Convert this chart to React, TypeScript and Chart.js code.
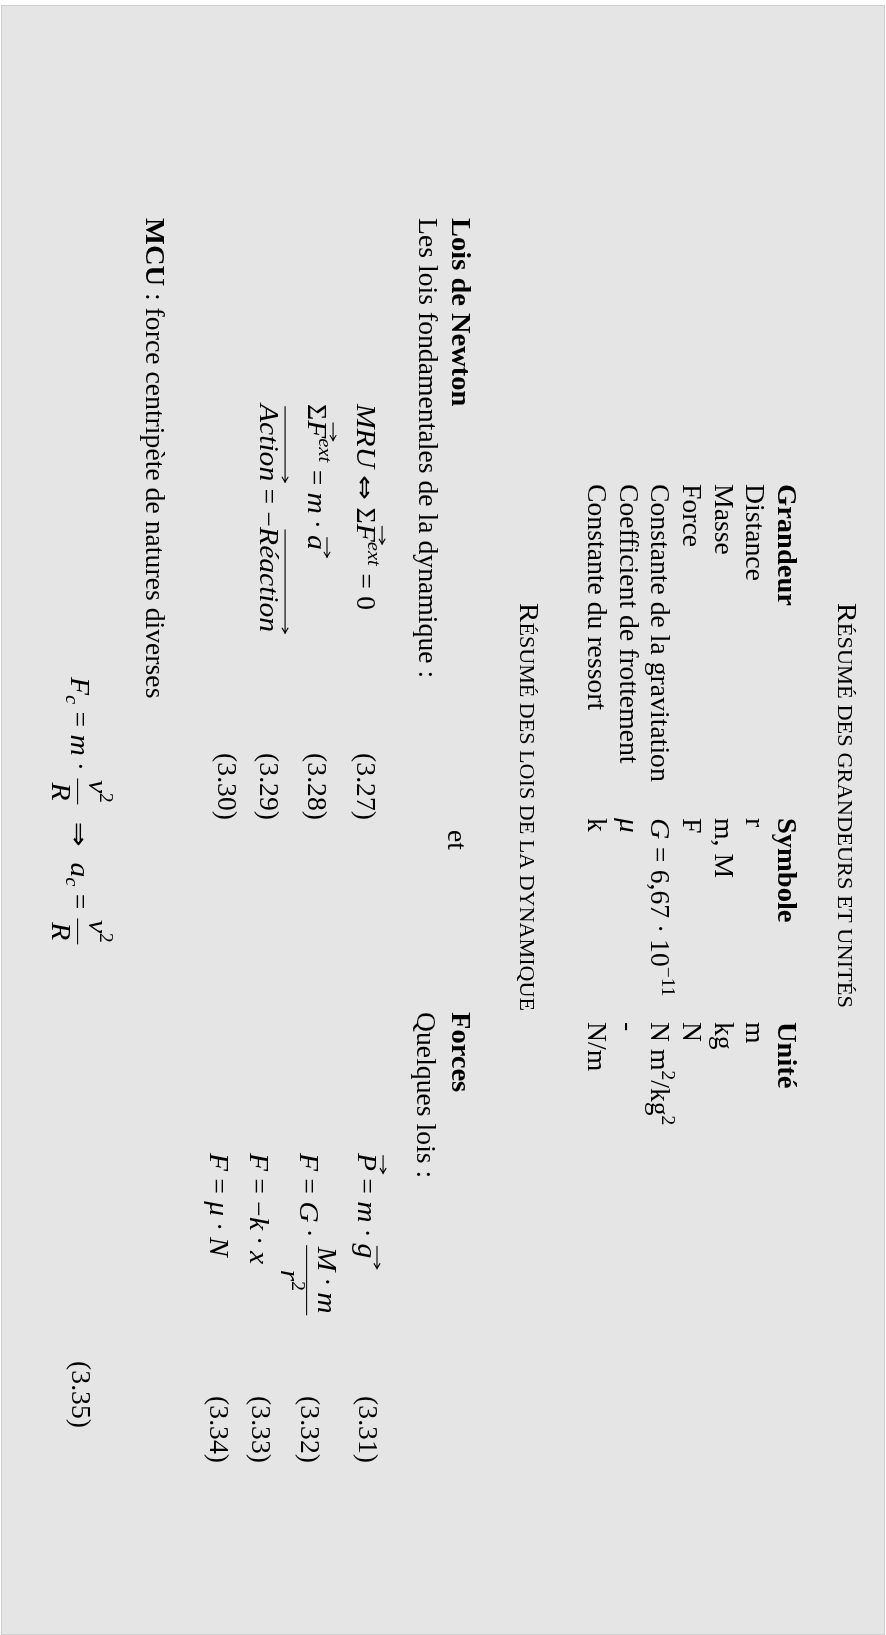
import { useEffect, useRef } from "react";
import { Chart, registerables } from "chart.js";

Chart.register(...registerables);

// ---------------- data (texts of the page) ----------------
const PAGE_W = 886;
const PAGE_H = 1635;

const titleGrandeurs = "Résumé des grandeurs et unités";
const titleLois = "Résumé des lois de la dynamique";
const tableHeaders = ["Grandeur", "Symbole", "Unité"];
const grandeurs = [
  "Distance",
  "Masse",
  "Force",
  "Constante de la gravitation",
  "Coefficient de frottement",
  "Constante du ressort",
];
const symbolesSimple = ["r", "m, M", "F", "", "μ", "k"];
const unitesSimple = ["m", "kg", "N", "", "-", "N/m"];
const gravitationValue = ["6,67", "10", "−11"];
const newtonHeading = ["Lois de Newton", "Les lois fondamentales de la dynamique :"];
const joinWord = "et";
const forcesHeading = ["Forces", "Quelques lois :"];
const mcuHeading = ["MCU", " : force centripète de natures diverses"];
const newtonEqNumbers = ["(3.27)", "(3.28)", "(3.29)", "(3.30)"];
const forceEqNumbers = ["(3.31)", "(3.32)", "(3.33)", "(3.34)"];
const mcuEqNumber = "(3.35)";

// ---------------- typesetting helpers ----------------
type St = "rm" | "it" | "bf" | "sy";
type Run =
  | { k: "t"; t: string; st: St; sz: number; rs: number }
  | { k: "sp"; w: number }
  | { k: "vec"; r: Run[]; h: number; ext: number }
  | { k: "frac"; n: Run[]; d: Run[] };

const FAMILY = '"Liberation Serif", "DejaVu Serif", serif';
const SYM_FAMILY = '"DejaVu Sans", sans-serif';
const FS = 26.4;
const STRETCH: Record<St, number> = { rm: 1.05, it: 1.12, bf: 1.08, sy: 1.25 };
const INK = "#000000";

const rm = (t: string): Run => ({ k: "t", t, st: "rm", sz: 1, rs: 0 });
const it = (t: string): Run => ({ k: "t", t, st: "it", sz: 1, rs: 0 });
const bf = (t: string): Run => ({ k: "t", t, st: "bf", sz: 1, rs: 0 });
const sy = (t: string): Run => ({ k: "t", t, st: "sy", sz: 0.9, rs: 0 });
const sp = (w: number): Run => ({ k: "sp", w });
const sup = (r: Run): Run => (r.k === "t" ? { ...r, sz: 0.7, rs: 0.42 } : r);
const sub = (r: Run): Run => (r.k === "t" ? { ...r, sz: 0.7, rs: -0.18 } : r);
const vec = (h: number, ext: number, ...r: Run[]): Run => ({ k: "vec", r, h, ext });
const frac = (n: Run[], d: Run[]): Run => ({ k: "frac", n, d });
const REL = 0.2778;
const BIN = 0.2222;
const eq = (): Run[] => [sp(REL), rm("="), sp(REL)];
const dot = (): Run[] => [sp(BIN), rm("·"), sp(BIN)];

function smallCaps(text: string): Run[] {
  const out: Run[] = [];
  for (const ch of text) {
    const lower = ch !== ch.toUpperCase();
    const sz = lower ? 0.76 : 1;
    const c = ch.toUpperCase();
    const last = out[out.length - 1];
    if (last && last.k === "t" && (last.sz === sz || ch === " ")) last.t += c;
    else out.push({ k: "t", t: c, st: "rm", sz, rs: 0 });
  }
  return out;
}

function fontOf(st: St, px: number) {
  if (st === "sy") return `${px.toFixed(2)}px ${SYM_FAMILY}`;
  const pre = st === "it" ? "italic " : st === "bf" ? "bold " : "";
  return `${pre}${px.toFixed(2)}px ${FAMILY}`;
}

function width(ctx: CanvasRenderingContext2D, runs: Run[], f: number): number {
  let w = 0;
  for (const r of runs) {
    if (r.k === "t") {
      ctx.font = fontOf(r.st, f * r.sz);
      w += ctx.measureText(r.t).width * STRETCH[r.st];
    } else if (r.k === "sp") w += r.w * f;
    else if (r.k === "vec") w += width(ctx, r.r, f);
    else w += Math.max(width(ctx, r.n, f), width(ctx, r.d, f)) + 0.24 * f;
  }
  return w;
}

function arrow(ctx: CanvasRenderingContext2D, x0: number, x1: number, y: number, f: number) {
  ctx.save();
  ctx.strokeStyle = INK;
  ctx.lineWidth = 0.042 * f;
  ctx.lineCap = "round";
  ctx.beginPath();
  ctx.moveTo(x0, y);
  ctx.lineTo(x1, y);
  ctx.moveTo(x1 - 0.2 * f, y - 0.11 * f);
  ctx.quadraticCurveTo(x1 - 0.06 * f, y - 0.02 * f, x1, y);
  ctx.moveTo(x1 - 0.2 * f, y + 0.11 * f);
  ctx.quadraticCurveTo(x1 - 0.06 * f, y + 0.02 * f, x1, y);
  ctx.stroke();
  ctx.restore();
}

function render(ctx: CanvasRenderingContext2D, runs: Run[], f: number, x: number): number {
  for (const r of runs) {
    if (r.k === "t") {
      ctx.font = fontOf(r.st, f * r.sz);
      const w = ctx.measureText(r.t).width;
      ctx.save();
      ctx.translate(x, -r.rs * f);
      ctx.scale(STRETCH[r.st], 1);
      ctx.fillText(r.t, 0, 0);
      ctx.restore();
      x += w * STRETCH[r.st];
    } else if (r.k === "sp") {
      x += r.w * f;
    } else if (r.k === "vec") {
      const x0 = x;
      x = render(ctx, r.r, f, x);
      arrow(ctx, x0 + 0.1 * f, x + r.ext * f, -r.h * f, f);
    } else {
      const wn = width(ctx, r.n, f);
      const wd = width(ctx, r.d, f);
      const W = Math.max(wn, wd) + 0.24 * f;
      ctx.save();
      ctx.translate(0, -0.677 * f);
      render(ctx, r.n, f, x + (W - wn) / 2);
      ctx.restore();
      ctx.save();
      ctx.translate(0, 0.72 * f);
      render(ctx, r.d, f, x + (W - wd) / 2);
      ctx.restore();
      ctx.fillStyle = INK;
      ctx.fillRect(x + 0.06 * f, -0.25 * f - 0.02 * f, W - 0.12 * f, 0.04 * f);
      x += W;
    }
  }
  return x;
}

type Opt = { anchor?: "start" | "end"; len?: number };
function drawLine(ctx: CanvasRenderingContext2D, runs: Run[], bx: number, y: number, opt: Opt = {}) {
  const w = width(ctx, runs, FS);
  const s = opt.len ? opt.len / w : 1;
  const start = opt.anchor === "end" ? y - w * s : y;
  ctx.save();
  ctx.translate(bx, start);
  ctx.rotate(Math.PI / 2);
  ctx.scale(s, 1);
  ctx.fillStyle = INK;
  ctx.textBaseline = "alphabetic";
  ctx.textAlign = "left";
  render(ctx, runs, FS, 0);
  ctx.restore();
}

// ---------------- layout (positions, in page units) ----------------
const LAYOUT = {
  frame: { x0: 1, y0: 5, x1: 885, y1: 1635 },
  title1: { x: 838, y: 603, len: 405 },
  title2: { x: 520, y: 603, len: 408 },
  headerX: 778,
  rowX: [746.3, 714.6, 682.9, 651.2, 619.5, 587.8],
  colY: [484, 818, 1022],
  headX: 452,
  subX: 419,
  leftY: 218,
  etX: 448,
  etY: 830,
  rightY: 1012,
  newtonX: [357, 308, 260, 218],
  newtonY: 404,
  newtonNumEnd: 820,
  forceX: [358, 300, 250, 210],
  forceNumX: [359, 301, 252, 210],
  forceAlignY: 1171,
  forceNumEnd: 1463,
  mcuX: 146,
  mcuEqX: 71,
  mcuEqY: 677,
  mcuNumEnd: 1428,
};

export default function App() {
  const ref = useRef<HTMLCanvasElement | null>(null);

  useEffect(() => {
    const canvas = ref.current;
    if (!canvas) return;

    const pagePlugin = {
      id: "latexPage",
      afterDraw(chart: any) {
        const ctx: CanvasRenderingContext2D = chart.ctx;
        const sx = (v: number) => chart.scales.x.getPixelForValue(v);
        const sy2 = (v: number) => chart.scales.y.getPixelForValue(v);
        const L = LAYOUT;

        ctx.save();
        ctx.fillStyle = "#ffffff";
        ctx.fillRect(0, 0, chart.width, chart.height);
        ctx.fillStyle = "#e5e5e5";
        ctx.fillRect(sx(L.frame.x0), sy2(L.frame.y0), sx(L.frame.x1) - sx(L.frame.x0), sy2(L.frame.y1) - sy2(L.frame.y0));
        ctx.strokeStyle = "#cfcfcf";
        ctx.lineWidth = 1;
        ctx.strokeRect(sx(L.frame.x0) + 0.5, sy2(L.frame.y0) + 0.5, sx(L.frame.x1) - sx(L.frame.x0) - 1, sy2(L.frame.y1) - sy2(L.frame.y0) - 1);

        const line = (runs: Run[], x: number, y: number, opt: Opt = {}) => drawLine(ctx, runs, sx(x), sy2(y), opt);

        // titles
        line(smallCaps(titleGrandeurs), L.title1.x, L.title1.y, { len: L.title1.len });
        line(smallCaps(titleLois), L.title2.x, L.title2.y, { len: L.title2.len });

        // table
        tableHeaders.forEach((h, i) => line([bf(h)], L.headerX, L.colY[i]));
        grandeurs.forEach((g, i) => line([rm(g)], L.rowX[i], L.colY[0]));
        symbolesSimple.forEach((s, i) => {
          if (i === 3) {
            line(
              [it("G"), ...eq(), rm(gravitationValue[0]), ...dot(), rm(gravitationValue[1]), sup(rm(gravitationValue[2]))],
              L.rowX[i],
              L.colY[1]
            );
          } else if (s === "μ") line([it(s)], L.rowX[i], L.colY[1]);
          else line([rm(s)], L.rowX[i], L.colY[1]);
        });
        unitesSimple.forEach((u, i) => {
          if (i === 3) line([rm("N m"), sup(rm("2")), rm("/kg"), sup(rm("2"))], L.rowX[i], L.colY[2]);
          else line([rm(u)], L.rowX[i], L.colY[2]);
        });

        // headings of the two minipages
        line([bf(newtonHeading[0])], L.headX, L.leftY);
        line([rm(newtonHeading[1])], L.subX, L.leftY);
        line([rm(joinWord)], L.etX, L.etY);
        line([bf(forcesHeading[0])], L.headX, L.rightY);
        line([rm(forcesHeading[1])], L.subX - 2, L.rightY);

        // Newton's laws
        const newtonEqs: Run[][] = [
          [it("MRU"), sp(REL), sy("⇔"), sp(REL), rm("Σ"), vec(0.95, 0.1, it("F")), sup(it("ext")), ...eq(), rm("0")],
          [rm("Σ"), vec(0.95, 0.1, it("F")), sup(it("ext")), ...eq(), it("m"), ...dot(), vec(0.72, 0.3, it("a"))],
          [vec(0.95, 0.05, it("Action")), ...eq(), rm("−"), vec(0.95, 0.05, it("Réaction"))],
        ];
        newtonEqs.forEach((r, i) => line(r, L.newtonX[i], L.newtonY));
        newtonEqNumbers.forEach((n, i) => line([rm(n)], L.newtonX[i], L.newtonNumEnd, { anchor: "end" }));

        // Forces
        const forceLhs: Run[][] = [[vec(0.95, 0.1, it("P"))], [it("F")], [it("F")], [it("F")]];
        const forceRhs: Run[][] = [
          [...eq(), it("m"), ...dot(), vec(0.72, 0.4, it("g"))],
          [...eq(), it("G"), ...dot(), frac([it("M"), ...dot(), it("m")], [it("r"), sup(rm("2"))])],
          [...eq(), rm("−"), it("k"), ...dot(), it("x")],
          [...eq(), it("μ"), ...dot(), it("N")],
        ];
        forceLhs.forEach((r, i) => line(r, L.forceX[i], L.forceAlignY, { anchor: "end" }));
        forceRhs.forEach((r, i) => line(r, L.forceX[i], L.forceAlignY));
        forceEqNumbers.forEach((n, i) => line([rm(n)], L.forceNumX[i], L.forceNumEnd, { anchor: "end" }));

        // MCU
        line([bf(mcuHeading[0]), rm(mcuHeading[1])], L.mcuX, L.leftY);
        const mcu: Run[] = [
          it("F"),
          sub(it("c")),
          ...eq(),
          it("m"),
          ...dot(),
          frac([it("v"), sup(rm("2"))], [it("R")]),
          sp(0.6),
          sy("⇒"),
          sp(0.6),
          it("a"),
          sub(it("c")),
          ...eq(),
          frac([it("v"), sup(rm("2"))], [it("R")]),
        ];
        line(mcu, L.mcuEqX, L.mcuEqY);
        line([rm(mcuEqNumber)], L.mcuEqX + 1, L.mcuNumEnd, { anchor: "end" });
        ctx.restore();
      },
    };

    const chart = new Chart(canvas, {
      type: "scatter",
      data: { datasets: [] },
      options: {
        animation: false,
        responsive: false,
        devicePixelRatio: 1,
        events: [],
        layout: { padding: 0 },
        plugins: { legend: { display: false }, tooltip: { enabled: false }, title: { display: false } },
        scales: {
          x: { type: "linear", min: 0, max: PAGE_W, display: false },
          y: { type: "linear", min: 0, max: PAGE_H, reverse: true, display: false },
        },
      },
      plugins: [pagePlugin],
    });
    return () => chart.destroy();
  }, []);

  return (
    <div style={{ position: "absolute", left: 0, top: 0, width: PAGE_W, height: PAGE_H }}>
      <canvas ref={ref} width={PAGE_W} height={PAGE_H} style={{ display: "block" }} />
    </div>
  );
}
